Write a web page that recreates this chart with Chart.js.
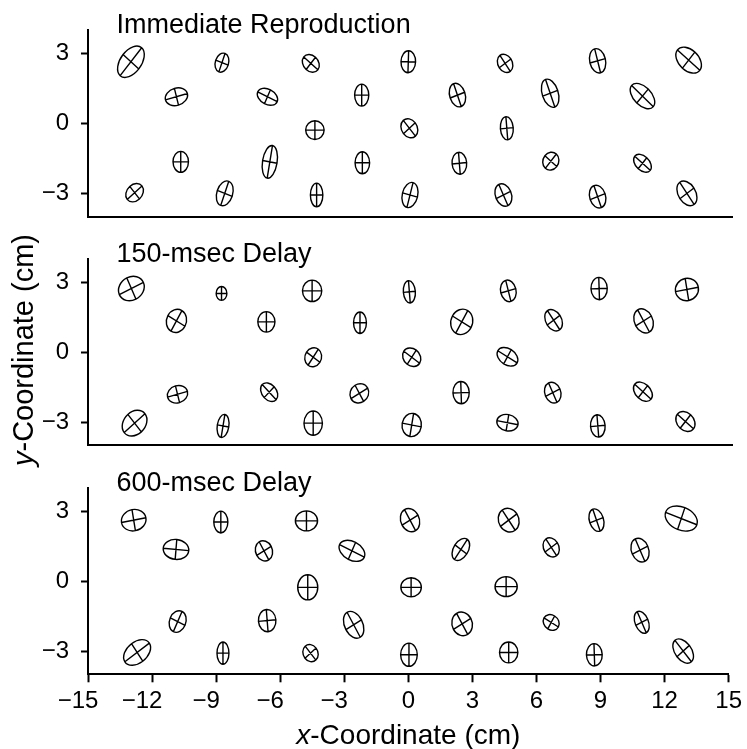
<!DOCTYPE html>
<html>
<head>
<meta charset="utf-8">
<script src="https://cdn.jsdelivr.net/npm/chart.js@4.4.1/dist/chart.umd.min.js"></script>
<style>
  body { margin: 0; background: #fff; }
  #wrap { position: relative; width: 747px; height: 749px; }
  #wrap canvas { position: absolute; left: 0; top: 0; }
</style>
</head>
<body>
<div id="wrap">
  <canvas id="c1" width="747" height="749"></canvas>
  <canvas id="c2" width="747" height="749"></canvas>
  <canvas id="c3" width="747" height="749"></canvas>
</div>
<script>
const xTicks = [-15, -12, -9, -6, -3, 0, 3, 6, 9, 12, 15];
const yTicks = [-3, 0, 3];
const panelTitles = ['Immediate Reproduction', '150-msec Delay', '600-msec Delay'];

// ellipse centres (cm), semi-axes (cm) and major-axis angle (deg)
// Immediate reproduction
const immX = [-13.0, -8.76, -4.62, -0.08, 4.43, 8.74, 12.98, -10.88, -6.64, -2.25, 2.21, 6.53, 10.83, -4.43, -0.03, 4.51, -10.68, -6.53, -2.22, 2.30, 6.56, 10.83, -12.83, -8.63, -4.35, 0.00, 4.35, 8.74, 12.90];
const immY = [2.64, 2.60, 2.57, 2.64, 2.57, 2.68, 2.71, 1.14, 1.14, 1.21, 1.21, 1.29, 1.17, -0.29, -0.21, -0.21, -1.65, -1.65, -1.69, -1.71, -1.62, -1.71, -2.97, -3.00, -3.07, -3.07, -3.07, -3.14, -3.00];
const immMajor = [0.78, 0.42, 0.43, 0.47, 0.42, 0.53, 0.68, 0.53, 0.50, 0.47, 0.52, 0.63, 0.68, 0.43, 0.44, 0.50, 0.45, 0.71, 0.47, 0.47, 0.40, 0.47, 0.45, 0.55, 0.51, 0.55, 0.50, 0.50, 0.58];
const immMinor = [0.48, 0.31, 0.34, 0.34, 0.33, 0.37, 0.45, 0.37, 0.33, 0.33, 0.36, 0.37, 0.40, 0.40, 0.36, 0.30, 0.36, 0.34, 0.34, 0.34, 0.36, 0.31, 0.35, 0.37, 0.29, 0.36, 0.37, 0.37, 0.40];
const immAngle = [50, 70, 140, 88, 125, 105, 140, 15, 155, 90, 110, 110, 138, 0, 130, 95, 90, 80, 90, 95, 50, 140, 40, 70, 90, 75, 115, 110, 125];

// 150-msec delay
const d150X = [-12.98, -8.78, -4.56, -0.03, 4.58, 8.81, 12.90, -10.88, -6.69, -2.33, 2.41, 6.69, 10.88, -4.51, 0.08, 4.54, -10.83, -6.56, -2.36, 2.38, 6.65, 10.85, -12.83, -8.71, -4.51, 0.08, 4.54, 8.75, 12.83];
const d150Y = [2.74, 2.53, 2.64, 2.60, 2.64, 2.74, 2.70, 1.35, 1.31, 1.27, 1.31, 1.38, 1.35, -0.21, -0.21, -0.19, -1.80, -1.71, -1.76, -1.73, -1.73, -1.69, -3.04, -3.16, -3.04, -3.12, -3.02, -3.16, -2.97];
const d150Major = [0.62, 0.30, 0.46, 0.48, 0.47, 0.48, 0.54, 0.51, 0.44, 0.46, 0.56, 0.50, 0.55, 0.42, 0.45, 0.52, 0.48, 0.46, 0.45, 0.48, 0.46, 0.50, 0.63, 0.50, 0.52, 0.50, 0.50, 0.48, 0.49];
const d150Minor = [0.50, 0.25, 0.45, 0.28, 0.36, 0.38, 0.48, 0.46, 0.40, 0.30, 0.50, 0.36, 0.42, 0.38, 0.37, 0.35, 0.37, 0.33, 0.40, 0.38, 0.37, 0.34, 0.49, 0.27, 0.43, 0.45, 0.35, 0.34, 0.38];
const d150Angle = [25, 90, 90, 95, 105, 92, 10, 60, 90, 90, 60, 125, 120, 55, 145, 150, 15, 135, 30, 92, 115, 140, 40, 80, 90, 80, 170, 95, 140];

// 600-msec delay
const d600X = [-12.86, -8.78, -4.77, 0.08, 4.70, 8.81, 12.78, -10.88, -6.76, -2.64, 2.46, 6.69, 10.85, -4.71, 0.13, 4.58, -10.80, -6.61, -2.56, 2.52, 6.69, 10.93, -12.70, -8.68, -4.58, 0.03, 4.70, 8.71, 12.87];
const d600Y = [2.63, 2.55, 2.60, 2.63, 2.63, 2.63, 2.70, 1.37, 1.31, 1.31, 1.37, 1.46, 1.34, -0.26, -0.26, -0.23, -1.73, -1.69, -1.87, -1.83, -1.77, -1.76, -3.06, -3.09, -3.09, -3.16, -3.06, -3.16, -3.00];
const d600Major = [0.58, 0.47, 0.52, 0.52, 0.53, 0.50, 0.78, 0.60, 0.45, 0.64, 0.53, 0.44, 0.53, 0.54, 0.48, 0.52, 0.48, 0.48, 0.62, 0.52, 0.39, 0.50, 0.70, 0.48, 0.39, 0.50, 0.45, 0.48, 0.60];
const d600Minor = [0.46, 0.33, 0.43, 0.43, 0.47, 0.33, 0.50, 0.43, 0.39, 0.40, 0.34, 0.35, 0.40, 0.47, 0.41, 0.43, 0.38, 0.41, 0.42, 0.47, 0.32, 0.31, 0.46, 0.28, 0.34, 0.39, 0.43, 0.37, 0.38];
const d600Angle = [10, 90, 0, 120, 125, 110, 160, 175, 120, 155, 55, 125, 115, 90, 0, 0, 65, 95, 120, 120, 150, 115, 35, 90, 130, 90, 90, 92, 130];

const FAMILY = '"Liberation Sans", Arial, Helvetica, sans-serif';
const minus = v => (v < 0 ? '\u2212' + Math.abs(v) : String(v));
// negative x labels sit with their digits over the tick, the minus hanging left
const minusX = v => (v < 0 ? '\u2212' + Math.abs(v) + '   ' : String(v));

function toPoints(xs, ys, as, bs, angs) {
  return xs.map((x, i) => ({ x: x, y: ys[i], a: as[i], b: bs[i], angle: angs[i] }));
}

// draws each point as an ellipse with its two axes, sized in data units
const ellipsePlugin = {
  id: 'ellipses',
  afterDatasetsDraw(chart) {
    const ctx = chart.ctx;
    const xs = chart.scales.x, ys = chart.scales.y;
    const sx = xs.getPixelForValue(1) - xs.getPixelForValue(0);
    const sy = ys.getPixelForValue(0) - ys.getPixelForValue(1);
    ctx.save();
    ctx.strokeStyle = '#000';
    ctx.lineWidth = 1.4;
    chart.data.datasets[0].data.forEach(p => {
      ctx.save();
      ctx.translate(xs.getPixelForValue(p.x), ys.getPixelForValue(p.y));
      ctx.scale(sx, -sy);
      ctx.rotate(p.angle * Math.PI / 180);
      ctx.beginPath();
      ctx.ellipse(0, 0, p.a, p.b, 0, 0, Math.PI * 2);
      ctx.moveTo(-p.a, 0);
      ctx.lineTo(p.a, 0);
      ctx.moveTo(0, -p.b);
      ctx.lineTo(0, p.b);
      ctx.restore();
      ctx.stroke();
    });
    ctx.restore();
  }
};

function drawParts(ctx, parts, x, y, size) {
  const fonts = parts.map(p => (p[1] ? 'italic ' : '') + size + 'px ' + FAMILY);
  const widths = parts.map((p, i) => { ctx.font = fonts[i]; return ctx.measureText(p[0]).width; });
  let cx = x - widths.reduce((s, w) => s + w, 0) / 2;
  ctx.textAlign = 'left';
  ctx.textBaseline = 'alphabetic';
  parts.forEach((p, i) => { ctx.font = fonts[i]; ctx.fillText(p[0], cx, y); cx += widths[i]; });
}

const axisTitlePlugin = {
  id: 'axisTitles',
  afterDraw(chart) {
    const ctx = chart.ctx;
    const area = chart.chartArea;
    ctx.save();
    ctx.fillStyle = '#000';
    drawParts(ctx, [['x', true], ['-Coordinate (cm)', false]], (area.left + area.right) / 2, 744, 28);
    ctx.translate(33, 350);
    ctx.rotate(-Math.PI / 2);
    drawParts(ctx, [['y', true], ['-Coordinate (cm)', false]], 0, 0, 29);
    ctx.restore();
  }
};

function makeChart(id, points, title, top, bottom, bottomAxis) {
  const titlePlugin = {
    id: 'panelTitle',
    afterDraw(chart) {
      const ctx = chart.ctx;
      ctx.save();
      ctx.fillStyle = '#000';
      ctx.font = '27px ' + FAMILY;
      ctx.textAlign = 'left';
      ctx.textBaseline = 'alphabetic';
      ctx.fillText(title, chart.chartArea.left + 28.5, chart.chartArea.top + 2.5);
      ctx.restore();
    }
  };
  const plugins = [ellipsePlugin, titlePlugin];
  if (bottomAxis) plugins.push(axisTitlePlugin);

  return new Chart(document.getElementById(id), {
    type: 'scatter',
    data: { datasets: [{ data: points, pointRadius: 0, pointHoverRadius: 0, showLine: false }] },
    options: {
      responsive: false,
      animation: false,
      devicePixelRatio: 1,
      events: [],
      layout: { padding: { top: top, bottom: bottom, left: 0, right: 15 } },
      plugins: { legend: { display: false }, tooltip: { enabled: false } },
      scales: {
        x: {
          type: 'linear',
          min: -15,
          max: 15,
          afterBuildTicks: s => { s.ticks = xTicks.map(v => ({ value: v })); },
          afterFit: s => { s.height = bottomAxis ? 74.7 : 0; },
          border: { display: true, color: '#000', width: 2 },
          grid: { display: true, drawOnChartArea: false, drawTicks: bottomAxis, tickLength: 8, tickWidth: 2, tickColor: '#000' },
          ticks: { display: bottomAxis, padding: 5, color: '#000', font: { family: FAMILY, size: 24 }, callback: minusX, maxRotation: 0 }
        },
        y: {
          type: 'linear',
          min: -4,
          max: 4,
          afterBuildTicks: s => { s.ticks = yTicks.map(v => ({ value: v })); },
          afterFit: s => { s.width = 88; },
          border: { display: true, color: '#000', width: 2 },
          grid: { display: true, drawOnChartArea: false, drawTicks: true, tickLength: 7, tickWidth: 2, tickColor: '#000' },
          ticks: { padding: 12, color: '#000', font: { family: FAMILY, size: 24 }, callback: minus }
        }
      }
    },
    plugins: plugins
  });
}

makeChart('c1', toPoints(immX, immY, immMajor, immMinor, immAngle), panelTitles[0], 30, 532.3, false);
makeChart('c2', toPoints(d150X, d150Y, d150Major, d150Minor, d150Angle), panelTitles[1], 259.2, 303.5, false);
makeChart('c3', toPoints(d600X, d600Y, d600Major, d600Minor, d600Angle), panelTitles[2], 488.3, 0, true);
</script>
</body>
</html>
